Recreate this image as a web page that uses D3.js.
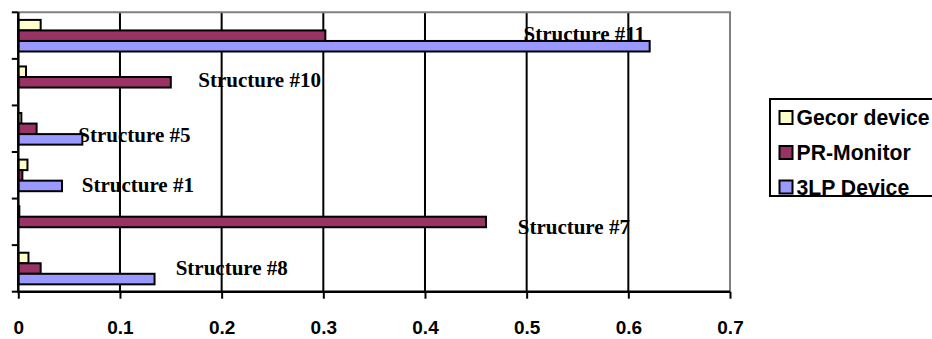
<!DOCTYPE html>
<html><head><meta charset="utf-8">
<script src="https://cdn.jsdelivr.net/npm/d3@7"></script>
<style>html,body{margin:0;padding:0;background:#fff;overflow:hidden}</style>
</head><body>
<svg id="c" width="932" height="339"></svg>
<script>
// ---- data ----
const categories = ["Structure #8", "Structure #7", "Structure #1", "Structure #5", "Structure #10", "Structure #11"]; // bottom to top
const seriesNames = ["Gecor device", "PR-Monitor", "3LP Device"];
const gecor = [0.010, 0.001, 0.009, 0.003, 0.0076, 0.022];
const prMonitor = [0.022, 0.460, 0.004, 0.018, 0.150, 0.302];
const lp3 = [0.134, 0.000, 0.043, 0.063, 0.000, 0.621];
const xTicks = [0, 0.1, 0.2, 0.3, 0.4, 0.5, 0.6, 0.7];

// ---- layout ----
const colors = ["#FFFFCC", "#993366", "#9999FF"];
const labelLayout = { // label anchor in data units (x) and fraction of band (y)
  "Structure #8": [0.1548, 0.652], "Structure #7": [0.4912, 0.764], "Structure #1": [0.0624, 0.85],
  "Structure #5": [0.059, 0.777], "Structure #10": [0.177, 0.597], "Structure #11": [0.497, 0.616]
};
const svg = d3.select("#c");
const x = d3.scaleLinear().domain([0, 0.7]).range([18.3, 730]);
const y = d3.scaleBand().domain(categories.slice().reverse()).range([12.3, 291.7]).padding(0);
const ys = d3.scaleBand().domain(seriesNames).range([7.6, 39.2]).padding(0);
const series = [gecor, prMonitor, lp3];

// labels
svg.append("g").selectAll("text").data(categories).join("text")
  .attr("x", d => x(labelLayout[d][0]))
  .attr("y", d => y(d) + y.bandwidth() * labelLayout[d][1])
  .attr("font-family", "Liberation Serif, Times New Roman, serif")
  .attr("font-weight", "bold").attr("font-size", 21).attr("fill", "#000")
  .text(d => d);

// gridlines
svg.append("g").selectAll("line").data(xTicks.filter(t => t > 0 && t < 0.7)).join("line")
  .attr("x1", d => x(d)).attr("x2", d => x(d)).attr("y1", 12.3).attr("y2", 291.7)
  .attr("stroke", "#000").attr("stroke-width", 2);
// plot border (gray top/right)
svg.append("path").attr("d", `M${x(0)},12.3H${x(0.7)}V291.7`).attr("fill", "none")
  .attr("stroke", "#808080").attr("stroke-width", 2);

// bars
series.forEach((vals, si) => {
  svg.append("g").selectAll("rect").data(categories.map((c, i) => ({c, v: vals[i]})).filter(d => d.v > 0)).join("rect")
    .attr("x", x(0)).attr("y", d => y(d.c) + ys(seriesNames[si]))
    .attr("width", d => x(d.v) - x(0)).attr("height", ys.bandwidth())
    .attr("fill", colors[si]).attr("stroke", "#000").attr("stroke-width", 2);
});

// axes
const xAxis = svg.append("g").attr("transform", "translate(0,291.7)")
  .call(d3.axisBottom(x).tickValues(xTicks).tickSize(7).tickFormat(d3.format("~g")));
xAxis.select(".domain").attr("stroke", "#000").attr("stroke-width", 2.5).attr("d", `M${x(0) - 1},0H${x(0.7)}`);
xAxis.selectAll(".tick line").attr("stroke", "#000").attr("stroke-width", 2);
xAxis.selectAll(".tick text").attr("font-family", "Liberation Sans, Arial, sans-serif")
  .attr("font-weight", "bold").attr("font-size", 19).attr("fill", "#000").attr("dy", 0).attr("y", 42);

const yAxis = svg.append("g").attr("transform", `translate(${x(0)},0)`)
  .call(d3.axisLeft(y).tickValues([]).tickSize(0));
yAxis.select(".domain").attr("stroke", "#000").attr("stroke-width", 2.5).attr("d", `M0,12.3V291.7`);
svg.append("g").selectAll("line").data(d3.range(categories.length + 1)).join("line")
  .attr("x1", x(0) - 6.5).attr("x2", x(0))
  .attr("y1", i => 12.3 + i * y.step()).attr("y2", i => 12.3 + i * y.step())
  .attr("stroke", "#000").attr("stroke-width", 2);

// legend
const lg = svg.append("g");
lg.append("rect").attr("x", 770).attr("y", 99).attr("width", 175).attr("height", 97)
  .attr("fill", "#fff").attr("stroke", "#000").attr("stroke-width", 2);
const rowY = [117.5, 152.5, 187];
seriesNames.forEach((s, i) => {
  lg.append("rect").attr("x", 779.5).attr("y", rowY[i] - 6.5).attr("width", 13).attr("height", 13)
    .attr("fill", colors[i]).attr("stroke", "#000").attr("stroke-width", 2);
  lg.append("text").attr("x", 796.5).attr("y", rowY[i] + 7.5)
    .attr("font-family", "Liberation Sans, Arial, sans-serif").attr("font-weight", "bold")
    .attr("font-size", 21.2).attr("fill", "#000").text(s);
});
</script>
</body></html>
